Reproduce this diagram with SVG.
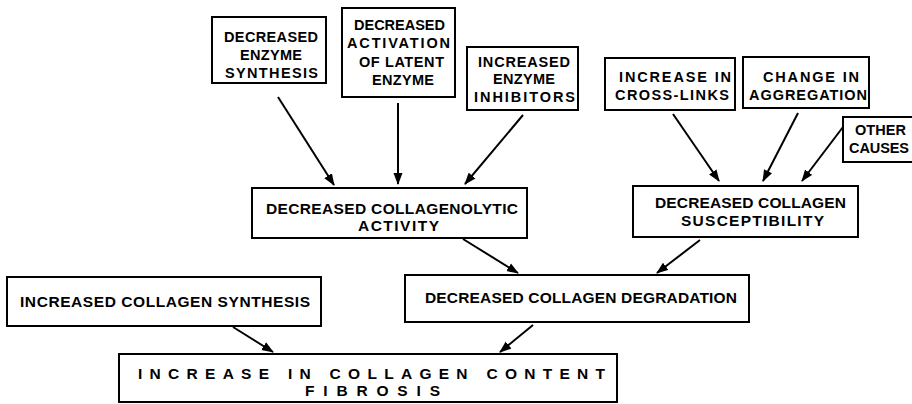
<svg xmlns="http://www.w3.org/2000/svg" width="912" height="404" viewBox="0 0 912 404">
<defs>
<style>
.box{fill:#fff;stroke:#000;stroke-width:2}
.t{font-family:"Liberation Sans",Arial,sans-serif;font-weight:bold;font-size:14.5px;fill:#000}
.m{font-size:15.5px}
.c{stroke:#000;stroke-width:2;fill:none;marker-end:url(#ah)}
</style>
<marker id="ah" markerUnits="userSpaceOnUse" markerWidth="12" markerHeight="10" refX="11" refY="4.5" orient="auto" viewBox="0 0 12 9">
<path d="M0,0 L12,4.5 L0,9 z" fill="#000"/>
</marker>
</defs>
<rect width="912" height="404" fill="#fff"/>
<g id="n1">
<rect class="box" x="212" y="17" width="114" height="66"/>
<text class="t" x="224" y="42" textLength="94" lengthAdjust="spacing">DECREASED</text>
<text class="t" x="240" y="60" textLength="62" lengthAdjust="spacing">ENZYME</text>
<text class="t" x="225" y="78" textLength="93" lengthAdjust="spacing">SYNTHESIS</text>
</g>
<g id="n2">
<rect class="box" x="342" y="8" width="113" height="89"/>
<text class="t" x="354" y="30" textLength="91" lengthAdjust="spacing">DECREASED</text>
<text class="t" x="347" y="48" textLength="103" lengthAdjust="spacing">ACTIVATION</text>
<text class="t" x="359" y="67" textLength="85" lengthAdjust="spacing">OF LATENT</text>
<text class="t" x="372" y="85" textLength="62" lengthAdjust="spacing">ENZYME</text>
</g>
<g id="n3">
<rect class="box" x="467" y="47" width="111" height="63"/>
<text class="t" x="478" y="67" textLength="92" lengthAdjust="spacing">INCREASED</text>
<text class="t" x="493" y="84" textLength="62" lengthAdjust="spacing">ENZYME</text>
<text class="t" x="474" y="102" textLength="101" lengthAdjust="spacing">INHIBITORS</text>
</g>
<g id="n4">
<rect class="box" x="605" y="58" width="130" height="52"/>
<text class="t" x="619" y="82" textLength="112" lengthAdjust="spacing">INCREASE IN</text>
<text class="t" x="615" y="100" textLength="114" lengthAdjust="spacing">CROSS-LINKS</text>
</g>
<g id="n5">
<rect class="box" x="743" y="57" width="126" height="51"/>
<text class="t" x="763" y="82" textLength="96" lengthAdjust="spacing">CHANGE IN</text>
<text class="t" x="749" y="100" textLength="118" lengthAdjust="spacing">AGGREGATION</text>
</g>
<g id="n6">
<rect class="box" x="843" y="117" width="90" height="45"/>
<text class="t" x="855" y="135" textLength="51" lengthAdjust="spacing">OTHER</text>
<text class="t" x="849" y="153" textLength="60" lengthAdjust="spacing">CAUSES</text>
</g>
<g id="n7">
<rect class="box" x="252" y="188" width="275" height="50"/>
<text class="t m" x="266" y="214" textLength="252" lengthAdjust="spacing">DECREASED COLLAGENOLYTIC</text>
<text class="t m" x="358" y="231" textLength="81" lengthAdjust="spacing">ACTIVITY</text>
</g>
<g id="n8">
<rect class="box" x="633" y="186" width="225" height="51"/>
<text class="t m" x="655" y="208" textLength="191" lengthAdjust="spacing">DECREASED COLLAGEN</text>
<text class="t m" x="681" y="226" textLength="143" lengthAdjust="spacing">SUSCEPTIBILITY</text>
</g>
<g id="n9">
<rect class="box" x="405" y="275" width="344" height="47"/>
<text class="t m" x="425" y="303" textLength="312" lengthAdjust="spacing">DECREASED COLLAGEN DEGRADATION</text>
</g>
<g id="n10">
<rect class="box" x="7" y="277" width="314" height="49"/>
<text class="t m" x="20" y="307" textLength="290" lengthAdjust="spacing">INCREASED COLLAGEN SYNTHESIS</text>
</g>
<g id="n11">
<rect class="box" x="119" y="354" width="498" height="48"/>
<text class="t m" x="138" y="379" textLength="467" lengthAdjust="spacing">INCREASE IN COLLAGEN CONTENT</text>
<text class="t m" x="305" y="396" textLength="135" lengthAdjust="spacing">FIBROSIS</text>
</g>
<g id="connectors">
<line class="c" x1="278" y1="97" x2="334" y2="185"/>
<line class="c" x1="398" y1="103" x2="398" y2="184"/>
<line class="c" x1="523" y1="115" x2="465" y2="184"/>
<line class="c" x1="673" y1="114" x2="719" y2="181"/>
<line class="c" x1="798" y1="113" x2="763" y2="181"/>
<line class="c" x1="843" y1="127" x2="802" y2="181"/>
<line class="c" x1="463" y1="239" x2="518" y2="273"/>
<line class="c" x1="700" y1="240" x2="657" y2="273"/>
<line class="c" x1="233" y1="327" x2="273" y2="352"/>
<line class="c" x1="533" y1="325" x2="500" y2="352"/>
</g>
</svg>
